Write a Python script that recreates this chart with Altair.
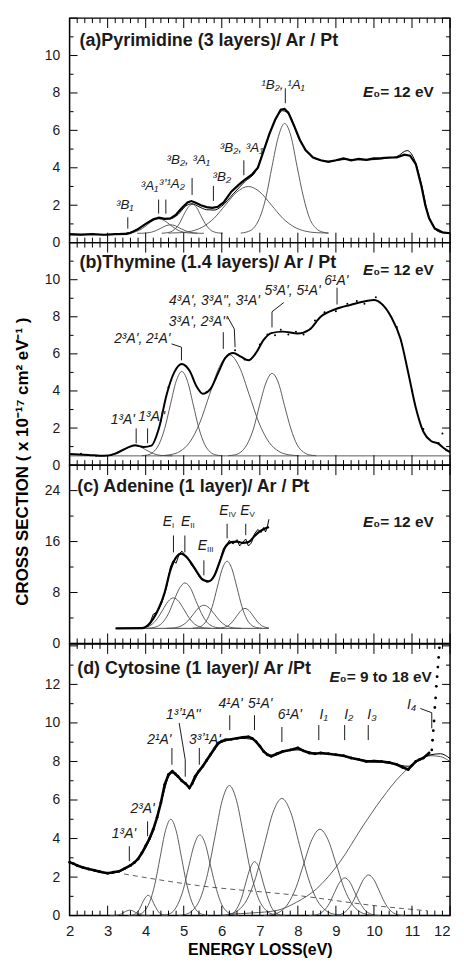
import altair as alt
import pandas as pd

FONT = "Liberation Sans"
INK = "#1a1a1a"
GRAY = "#4a4a4a"
W = 383
PANEL_H = {"a": 226, "b": 224, "c": 179.5, "d": 273.5}
Y_DOMAIN = {"a": [0, 12], "b": [0, 12], "c": [0, 28], "d": [0, 14.1]}
Y_LABELS = {"a": [0, 2, 4, 6, 8, 10], "b": [0, 2, 4, 6, 8, 10], "c": [0, 8, 16, 24], "d": [0, 2, 4, 6, 8, 10, 12]}
Y_MAJOR = {"a": [0, 2, 4, 6, 8, 10, 12], "b": [0, 2, 4, 6, 8, 10, 12], "c": [0, 8, 16, 24], "d": [0, 2, 4, 6, 8, 10, 12, 14]}
Y_MINOR = {"a": [1, 3, 5, 7, 9, 11], "b": [1, 3, 5, 7, 9, 11], "c": [4, 12, 20], "d": [1, 3, 5, 7, 9, 11, 13]}
X_MAJOR = [2, 3, 4, 5, 6, 7, 8, 9, 10, 11, 12]
X_MINOR = [round(2 + i * 0.2, 1) for i in range(51) if i % 5]

# ---------------- (a) Pyrimidine ----------------
A_DATA = [(2.0,0.45),(2.3,0.43),(2.6,0.46),(2.9,0.42),(3.2,0.45),(3.5,0.47),(3.6,0.52),(3.8,0.72),(4.0,1.0),(4.2,1.25),
          (4.35,1.33),(4.5,1.27),(4.65,1.3),(4.8,1.5),(4.95,1.85),(5.1,2.15),(5.2,2.22),(5.3,2.15),(5.45,2.0),(5.6,1.9),
          (5.75,1.86),(5.9,1.92),(6.05,2.15),(6.25,2.72),(6.45,3.1),(6.6,3.35),(6.8,3.65),(6.95,4.0),(7.1,4.9),(7.25,5.8),
          (7.4,6.55),(7.55,7.1),(7.65,7.15),(7.75,6.95),(7.9,6.25),(8.05,5.5),(8.2,4.95),(8.4,4.55),(8.6,4.4),(8.8,4.32),
          (9.0,4.4),(9.2,4.5),(9.4,4.4),(9.6,4.48),(9.8,4.42),(10.0,4.5),(10.2,4.52),(10.4,4.55),(10.6,4.55),(10.8,4.7),
          (10.95,4.65),(11.1,4.2),(11.25,3.0),(11.35,2.0),(11.45,1.3),(11.6,0.75),(11.8,0.55),(12.0,0.5)]
A_FIT = [(2.0,0.42),(3.0,0.42),(3.5,0.5),(3.8,0.75),(4.1,1.1),(4.35,1.3),(4.6,1.25),(4.85,1.5),(5.05,1.95),(5.22,2.08),
         (5.4,1.92),(5.6,1.76),(5.8,1.74),(6.0,1.95),(6.3,2.6),(6.6,3.25),(6.9,3.85),(7.1,4.9),(7.35,6.3),(7.6,7.05),
         (7.8,6.75),(8.0,5.7),(8.25,4.85),(8.5,4.45),(8.8,4.35),(9.3,4.45),(9.8,4.42),(10.3,4.5),(10.6,4.6),(10.87,4.92),
         (11.05,4.5),(11.25,3.1),(11.4,1.7),(11.55,0.9),(11.75,0.55),(12.0,0.5)]
A_COMPONENTS = {
    "a1": ([3.33,3.47,3.62,3.76,3.91,4.05,4.20,4.34,4.49,4.63,4.78,4.92,5.07,5.21,5.36],
           [0.50,0.51,0.53,0.60,0.75,0.97,1.18,1.27,1.18,0.97,0.75,0.60,0.53,0.51,0.50]),
    "a2": ([3.78,3.90,4.03,4.15,4.28,4.40,4.53,4.65,4.78,4.90,5.03,5.15,5.28,5.40,5.53],
           [0.50,0.50,0.52,0.56,0.65,0.77,0.90,0.95,0.90,0.77,0.65,0.56,0.52,0.50,0.50]),
    "a3": ([4.42,4.53,4.65,4.76,4.88,4.99,5.11,5.22,5.34,5.45,5.57,5.68,5.80,5.91,6.03],
           [0.50,0.52,0.57,0.71,1.00,1.44,1.87,2.05,1.87,1.44,1.00,0.71,0.57,0.52,0.50]),
    "a4": ([4.6,4.9,5.2,5.5,5.8,6.1,6.4,6.7,7.0,7.3,7.6,7.9,8.2,8.5,8.8],
           [0.51,0.53,0.61,0.84,1.31,2.02,2.71,3.00,2.71,2.02,1.31,0.84,0.61,0.53,0.51]),
    "a5": ([6.50,6.66,6.83,6.99,7.16,7.32,7.49,7.65,7.82,7.98,8.15,8.31,8.48,8.64,8.81],
           [0.51,0.57,0.76,1.29,2.41,4.06,5.68,6.37,5.68,4.06,2.41,1.29,0.76,0.57,0.51]),
}
A_TICKS = [(3.53,0.75,1.35),(4.34,1.55,2.3),(4.53,1.55,2.3),(5.22,2.55,3.45),(5.78,2.23,3.03),(6.58,3.6,4.4),(7.67,7.45,8.25)]
A_LABELS = [("³B₁",3.45,2.0),("³A₁",4.10,3.03),("³ʼ¹A₂",4.69,3.13),("³B₂, ³A₁",5.12,4.4),("³B₂",6.0,3.5),
            ("³B₂, ³A₁",6.52,5.05),("¹B₂, ¹A₁",7.61,8.45)]
A_TITLE = [("(a)Pyrimidine (3 layers)/ Ar / Pt", 2.26, 10.78)]
A_E0 = [("₀= 12 eV", 9.71, 8.07)]

# ---------------- (b) Thymine ----------------
B_FIT = [(2.0,0.6),(2.5,0.55),(2.9,0.5),(3.2,0.62),(3.5,0.92),(3.72,1.07),(3.95,0.98),(4.15,1.05),(4.35,2.0),(4.55,3.8),
         (4.75,5.0),(4.95,5.45),(5.15,5.1),(5.35,4.2),(5.5,3.85),(5.7,4.1),(5.9,4.95),(6.1,5.8),(6.3,6.05),(6.5,5.85),
         (6.7,5.65),(6.9,6.05),(7.1,6.75),(7.3,7.12),(7.6,7.2),(8.0,7.1),(8.3,7.3),(8.6,8.0),(9.0,8.42),(9.4,8.65),
         (9.8,8.85),(10.0,8.9),(10.2,8.7),(10.45,8.0),(10.7,6.8),(10.9,5.0),(11.1,3.1),(11.3,1.8),(11.5,1.3),(11.7,1.15),
         (11.85,0.9),(12.0,0.7)]
B_DOTS = [(2.3,0.62),(2.7,0.5),(3.1,0.55),(4.4,2.4),(4.6,4.2),(5.05,5.35),(5.6,3.95),(6.2,6.0),(6.35,6.2),(6.6,5.7),
          (7.0,6.5),(7.2,7.05),(7.4,7.0),(7.55,7.3),(7.75,7.05),(7.95,7.2),(8.15,7.05),(8.45,7.8),(8.7,8.25),(9.0,8.3),
          (9.3,8.7),(9.55,8.85),(9.75,8.7),(10.05,9.05),(10.6,7.45),(11.0,4.0),(11.3,1.95),(11.7,1.2),(11.9,0.8),(11.8,1.7)]
B_BASE = [(2.0,0.5),(12.0,0.5)]
B_COMPONENTS = {
    "b1": ([2.74,2.88,3.02,3.16,3.30,3.44,3.58,3.72,3.86,4.00,4.14,4.28,4.42,4.56,4.70],
           [0.50,0.51,0.52,0.57,0.68,0.83,0.99,1.05,0.99,0.83,0.68,0.57,0.52,0.51,0.50]),
    "b2": ([3.90,4.05,4.20,4.35,4.50,4.65,4.80,4.95,5.10,5.25,5.40,5.55,5.70,5.85,6.00],
           [0.51,0.55,0.70,1.12,1.98,3.26,4.52,5.05,4.52,3.26,1.98,1.12,0.70,0.55,0.51]),
    "b3": ([4.38,4.64,4.90,5.16,5.42,5.68,5.94,6.20,6.46,6.72,6.98,7.24,7.50,7.76,8.02],
           [0.51,0.56,0.74,1.24,2.27,3.81,5.31,5.95,5.31,3.81,2.27,1.24,0.74,0.56,0.51]),
    "b4": ([6.17,6.33,6.50,6.66,6.83,6.99,7.16,7.32,7.49,7.65,7.82,7.98,8.15,8.31,8.48],
           [0.51,0.55,0.70,1.10,1.94,3.20,4.43,4.95,4.43,3.20,1.94,1.10,0.70,0.55,0.51]),
}
B_TICKS = [(3.75,1.18,1.98),(4.05,1.18,1.98),(6.04,6.27,7.17),(9.03,8.66,9.57)]
B_CONNECTORS = {
    "k1": [(4.68,6.54),(4.94,6.36),(4.94,5.65)],
    "k2": [(6.16,7.97),(6.33,7.34),(6.35,6.36)],
    "k3": [(7.63,8.77),(7.32,8.27),(7.32,7.43)],
}
B_LABELS = [("1³A'",3.40,2.43),("1³A''",4.16,2.62),("2³A', 2¹A'",3.91,6.82),("3³A', 2³A''",5.38,7.7),
            ("4³A', 3³A'', 3¹A'",5.81,8.85),("5³A', 5¹A'",7.86,9.39),("6¹A'",9.01,9.92)]
B_TITLE = [("(b)Thymine (1.4 layers)/ Ar / Pt", 2.26, 10.9)]
B_E0 = [("₀= 12 eV", 9.71, 10.53)]

# ---------------- (c) Adenine ----------------
C_FIT = [(3.21,2.37),(3.9,2.4),(4.05,2.8),(4.2,3.9),(4.35,5.6),(4.5,8.0),(4.65,11.5),(4.8,13.5),(4.93,14.1),(5.05,13.7),
         (5.2,12.6),(5.35,11.2),(5.5,10.0),(5.65,9.75),(5.8,10.6),(5.95,12.9),(6.1,15.2),(6.25,15.9),(6.4,16.0),(6.55,15.8),
         (6.7,15.9),(6.85,16.8),(7.0,17.6),(7.12,18.0),(7.24,18.3)]
C_DATA = [(3.95,2.45),(4.1,3.0),(4.2,4.6),(4.3,4.9),(4.42,6.3),(4.55,8.9),(4.65,12.0),(4.72,13.0),(4.8,12.6),(4.88,14.0),
          (4.95,14.5),(5.02,14.0),(5.1,13.5),(5.2,12.3),(5.3,11.6),(5.42,10.4),(5.52,10.1),(5.6,9.6),(5.7,9.8),(5.82,10.8),
          (5.95,13.0),(6.05,15.0),(6.12,15.4),(6.2,16.2),(6.3,15.6),(6.4,16.3),(6.47,15.3),(6.55,15.9),(6.63,16.4),(6.7,15.3),
          (6.78,15.8),(6.86,17.2),(6.95,17.9),(7.03,17.4),(7.1,18.2),(7.15,17.5),(7.2,18.4),(7.24,19.5)]
C_BASE = [(3.21,2.37),(7.24,2.37)]
C_COMPONENTS = {
    "c1": ([3.75,3.89,4.03,4.17,4.31,4.45,4.59,4.73,4.87,5.01,5.15,5.29,5.43,5.57,5.71],
           [2.38,2.42,2.58,3.02,3.93,5.28,6.60,7.16,6.60,5.28,3.93,3.02,2.58,2.42,2.38]),
    "c2": ([4.02,4.16,4.31,4.45,4.60,4.74,4.89,5.03,5.18,5.32,5.47,5.61,5.76,5.90,6.05],
           [2.39,2.45,2.68,3.33,4.69,6.69,8.66,9.50,8.66,6.69,4.69,3.33,2.68,2.45,2.39]),
    "c3": ([4.55,4.69,4.83,4.97,5.11,5.25,5.39,5.53,5.67,5.81,5.95,6.09,6.23,6.37,6.51],
           [2.38,2.41,2.53,2.86,3.55,4.57,5.57,6.00,5.57,4.57,3.55,2.86,2.53,2.41,2.38]),
    "c4": ([5.23,5.36,5.49,5.62,5.75,5.88,6.01,6.14,6.27,6.40,6.53,6.66,6.79,6.92,7.05],
           [2.39,2.49,2.83,3.79,5.79,8.76,11.66,12.90,11.66,8.76,5.79,3.79,2.83,2.49,2.39]),
    "c5": ([5.84,5.95,6.06,6.17,6.28,6.39,6.50,6.61,6.72,6.83,6.94,7.05,7.16,7.24],
           [2.38,2.40,2.51,2.79,3.39,4.27,5.13,5.50,5.13,4.27,3.39,2.79,2.51,2.42]),
}
C_TICKS = [(4.73,14.3,16.95),(5.03,14.3,16.95),(5.53,10.7,13.05),(6.14,16.5,18.8),(6.63,17.0,18.8)]
C_SUBS = [("I",4.69,19.06),("II",5.17,19.06),("III",5.61,15.3),("IV",6.18,20.86),("V",6.73,20.86)]
C_TITLE = [("(c) Adenine (1 layer)/ Ar / Pt", 2.2, 24.5)]
C_E0 = [("₀= 12 eV", 9.71, 19.06)]

# ---------------- (d) Cytosine ----------------
D_DATA = [(2.0,2.77),(2.1,2.7),(2.2,2.6),(2.35,2.5),(2.5,2.42),(2.65,2.35),(2.8,2.28),(3.0,2.2),(3.15,2.25),(3.3,2.3),
          (3.45,2.45),(3.6,2.6),(3.7,2.75),(3.8,2.94),(3.9,3.25),(4.0,3.62),(4.1,4.0),(4.2,4.48),(4.3,5.1),(4.4,5.86),
          (4.5,6.8),(4.6,7.32),(4.7,7.49),(4.78,7.35),(4.85,7.22),(4.95,7.0),(5.05,6.85),(5.15,6.63),(5.22,6.85),(5.3,7.22),
          (5.4,7.5),(5.5,7.75),(5.6,8.05),(5.7,8.35),(5.8,8.65),(5.9,8.95),(6.0,9.05),(6.1,9.12),(6.25,9.15),(6.4,9.2),
          (6.55,9.25),(6.7,9.28),(6.8,9.2),(6.9,9.03),(7.0,8.8),(7.1,8.52),(7.2,8.35),(7.3,8.27),(7.45,8.4),(7.6,8.52),
          (7.8,8.6),(8.0,8.7),(8.15,8.55),(8.3,8.44),(8.45,8.4),(8.6,8.44),(8.8,8.4),(9.0,8.35),(9.2,8.3),(9.4,8.18),
          (9.6,8.1),(9.8,8.0),(10.0,8.02),(10.2,8.0),(10.4,7.95),(10.6,7.84),(10.75,7.7),(10.9,7.58),(11.0,7.8),(11.1,8.0),
          (11.2,8.1),(11.3,8.18),(11.45,8.44)]
D_TAIL = [(11.52,8.6),(11.54,9.1),(11.56,9.6),(11.58,10.1),(11.6,10.8),(11.62,11.3),(11.64,11.9),(11.66,12.4),
          (11.68,12.9),(11.7,13.4),(11.72,13.9)]
D_FIT = [(2.0,2.75),(2.5,2.4),(3.0,2.2),(3.3,2.28),(3.6,2.6),(3.9,3.2),(4.2,4.4),(4.45,6.2),(4.6,7.2),(4.7,7.4),
         (4.9,7.1),(5.15,6.7),(5.4,7.45),(5.7,8.3),(6.0,9.0),(6.5,9.2),(6.8,9.15),(7.1,8.55),(7.35,8.3),(7.7,8.55),
         (8.0,8.6),(8.5,8.42),(9.0,8.35),(9.5,8.15),(10.0,8.0),(10.5,7.88),(10.9,7.75),(11.2,8.1),(11.5,8.35),(11.75,8.4),
         (12.0,8.15)]
D_RAMP = [(6.2,0.08),(6.8,0.14),(7.45,0.27),(7.97,0.7),(8.49,1.39),(9.1,2.77),(9.71,4.65),(10.2,6.05),(10.72,7.31),
          (11.1,7.95),(11.5,8.3),(11.75,8.25),(12.0,8.0)]
D_BACKGROUND = [(3.43,2.16),(5.38,1.56),(7.97,1.05),(9.97,0.53),(11.4,0.25)]
D_COMPONENTS = {
    "d1": ([3.06,3.13,3.21,3.28,3.36,3.43,3.51,3.58,3.66,3.73,3.81,3.88,3.96,4.03,4.11],
           [0.00,0.00,0.01,0.04,0.09,0.17,0.25,0.28,0.25,0.17,0.09,0.04,0.01,0.00,0.00]),
    "d2": ([3.54,3.61,3.69,3.76,3.84,3.91,3.99,4.06,4.14,4.21,4.29,4.36,4.44,4.51,4.59],
           [0.00,0.01,0.05,0.14,0.34,0.64,0.93,1.05,0.93,0.64,0.34,0.14,0.05,0.01,0.00]),
    "d3": ([3.68,3.82,3.96,4.10,4.24,4.38,4.52,4.66,4.80,4.94,5.08,5.22,5.36,5.50,5.64],
           [0.01,0.06,0.22,0.68,1.62,3.03,4.41,5.00,4.41,3.03,1.62,0.68,0.22,0.06,0.01]),
    "d4": ([4.40,4.55,4.70,4.84,4.99,5.13,5.28,5.42,5.57,5.71,5.86,6.00,6.15,6.29,6.44],
           [0.01,0.05,0.18,0.57,1.36,2.54,3.70,4.19,3.70,2.54,1.36,0.57,0.18,0.05,0.01]),
    "d5": ([4.87,5.06,5.25,5.44,5.63,5.82,6.01,6.20,6.39,6.58,6.77,6.96,7.15,7.34,7.53],
           [0.01,0.07,0.30,0.91,2.19,4.09,5.96,6.75,5.96,4.09,2.19,0.91,0.30,0.07,0.01]),
    "d6": ([6.06,6.17,6.29,6.40,6.52,6.63,6.75,6.86,6.98,7.09,7.21,7.32,7.44,7.55,7.67],
           [0.01,0.03,0.12,0.38,0.91,1.70,2.47,2.80,2.47,1.70,0.91,0.38,0.12,0.03,0.01]),
    "d7": ([5.97,6.20,6.43,6.66,6.89,7.12,7.35,7.58,7.81,8.04,8.27,8.50,8.73,8.96,9.19],
           [0.01,0.07,0.27,0.82,1.97,3.69,5.37,6.08,5.37,3.69,1.97,0.82,0.27,0.07,0.01]),
    "d8": ([7.11,7.32,7.53,7.74,7.95,8.16,8.37,8.58,8.79,9.00,9.21,9.42,9.63,9.84,10.05],
           [0.01,0.05,0.20,0.61,1.45,2.72,3.95,4.48,3.95,2.72,1.45,0.61,0.20,0.05,0.01]),
    "d9": ([8.29,8.42,8.56,8.69,8.83,8.96,9.10,9.23,9.37,9.50,9.64,9.77,9.91,10.04,10.18],
           [0.00,0.02,0.09,0.27,0.64,1.19,1.73,1.96,1.73,1.19,0.64,0.27,0.09,0.02,0.00]),
    "d10": ([8.88,9.02,9.16,9.30,9.44,9.58,9.72,9.86,10.00,10.14,10.28,10.42,10.56,10.70,10.84],
            [0.00,0.02,0.09,0.29,0.69,1.28,1.86,2.11,1.86,1.28,0.69,0.29,0.09,0.02,0.00]),
}
D_TICKS = [(3.57,2.83,3.6),(4.05,4.12,4.89),(4.69,7.83,8.7),(5.41,7.83,8.7),(6.21,9.63,10.4),(6.86,9.63,10.4),
           (7.58,9.01,9.79),(8.55,9.11,9.89),(9.23,9.11,9.89),(9.85,9.11,9.89)]
D_CONNECTORS = {
    "k1": [(4.88,10.0),(5.04,8.09),(5.04,7.21)],
    "k2": [(11.22,10.75),(11.52,10.53),(11.52,9.72)],
}
D_LABELS = [("1³A'",3.43,4.22),("2³A'",3.92,5.51),("2¹A'",4.36,9.11),("1³ʼ¹A''",4.99,10.4),("3³ʼ¹A'",5.56,9.11),
            ("4¹A'",6.23,10.99),("5¹A'",7.01,10.99),("6¹A'",7.79,10.4),("I₁",8.68,10.4),("I₂",9.34,10.4),
            ("I₃",9.95,10.4),("I₄",10.99,10.92)]
D_TITLE = [("(d) Cytosine (1 layer)/ Ar /Pt", 2.2, 12.82)]
D_E0 = [("₀= 9 to 18 eV", 8.83, 12.37)]

Y_TITLE = "CROSS SECTION ( x 10⁻¹⁷ cm² eV⁻¹ )"


# ---------------- helpers ----------------
def xenc(p):
    if p == "d":
        ax = alt.Axis(values=X_MAJOR, format="d", ticks=False, tickSize=0, domain=False, grid=False,
                      labelFontSize=15, labelPadding=8, labelColor=INK, labelFlush=False, labelFont=FONT,
                      labelAlign={"condition": {"test": "datum.value == 12", "value": "right"}, "value": "center"},
                      title="ENERGY LOSS(eV)", titleFontSize=16, titleFontWeight="bold", titleFont=FONT,
                      titlePadding=3, titleColor="black")
    else:
        ax = None
    return alt.X("E:Q", scale=alt.Scale(domain=[2, 12], nice=False, zero=False), axis=ax)


def yenc(p):
    return alt.Y("v:Q", scale=alt.Scale(domain=Y_DOMAIN[p], nice=False, zero=False),
                 axis=alt.Axis(values=Y_LABELS[p], ticks=False, tickSize=0, domain=False, grid=False,
                               labelFontSize=14, labelPadding=10, labelColor=INK, labelFont=FONT, title=None))


def pts(rows):
    return pd.DataFrame(rows, columns=["E", "v"])


def comp_df(comps):
    rows = []
    for name, (es, vs) in comps.items():
        for e, v in zip(es, vs):
            rows.append({"E": e, "v": v, "g": name})
    return pd.DataFrame(rows)


def poly_df(polys):
    rows = []
    for name, pl in polys.items():
        for i, (e, v) in enumerate(pl):
            rows.append({"E": e, "v": v, "g": name, "o": i})
    return pd.DataFrame(rows)


def curve(p, df, width, color="black", interp="linear", dash=None, group=False):
    kw = dict(color=color, strokeWidth=width, interpolate=interp)
    if dash:
        kw["strokeDash"] = dash
    enc = dict(x=xenc(p), y=yenc(p))
    if group:
        enc["detail"] = "g:N"
    if "o" in df.columns:
        enc["order"] = "o:Q"
    return alt.Chart(df).mark_line(**kw).encode(**enc)


def vticks(p, rows):
    df = pd.DataFrame(rows, columns=["E", "v", "v2"])
    return alt.Chart(df).mark_rule(color=INK, strokeWidth=1).encode(x=xenc(p), y=yenc(p), y2="v2:Q")


def texts(p, rows, size=13, style="italic", weight="normal", align="center", dx=0, dy=0):
    df = pd.DataFrame(rows, columns=["t", "E", "v"])
    return alt.Chart(df).mark_text(font=FONT, fontSize=size, fontStyle=style, fontWeight=weight, align=align,
                                   baseline="middle", dx=dx, dy=dy, color=INK).encode(
        x=xenc(p), y=yenc(p), text="t:N")


def e0(p, rows):
    head = [("E", r[1], r[2]) for r in rows]
    return [texts(p, head, size=15.5, style="italic", weight="bold", align="left"),
            texts(p, rows, size=15.5, style="normal", weight="bold", align="left", dx=10.5)]


def frame(p):
    h = PANEL_H[p]
    layers = []
    for vals, ln in ((X_MAJOR, 10), (X_MINOR, 5)):
        base = alt.Chart(pd.DataFrame({"E": vals})).mark_rule(color="black", strokeWidth=1)
        layers.append(base.encode(x=xenc(p), y=alt.value(0), y2=alt.value(ln)))
        layers.append(base.encode(x=xenc(p), y=alt.value(h), y2=alt.value(h - ln)))
    for vals, ln in ((Y_MAJOR[p], 8), (Y_MINOR[p], 4)):
        base = alt.Chart(pd.DataFrame({"v": vals})).mark_rule(color="black", strokeWidth=1)
        layers.append(base.encode(y=yenc(p), x=alt.value(0), x2=alt.value(ln)))
        layers.append(base.encode(y=yenc(p), x=alt.value(W), x2=alt.value(W - ln)))
    return layers


def title(p, rows):
    return texts(p, rows, size=18, style="normal", weight="bold", align="left")


# ---------------- panels ----------------
pa = alt.layer(
    curve("a", comp_df(A_COMPONENTS), 0.9, GRAY, "monotone", group=True),
    curve("a", pts(A_DATA), 2.2, "black"),
    curve("a", pts(A_FIT), 1.0, "black", "monotone"),
    vticks("a", A_TICKS),
    texts("a", A_LABELS, size=13.5),
    title("a", A_TITLE),
    *e0("a", A_E0),
    *frame("a"),
).properties(width=W, height=PANEL_H["a"])

ytitle = alt.Chart(pd.DataFrame({"t": [Y_TITLE]})).mark_text(
    font=FONT, fontSize=17, fontWeight="bold", angle=270, align="center", baseline="middle", color="black"
).encode(text="t:N", x=alt.value(-47), y=alt.value(220.5))

pb = alt.layer(
    curve("b", pts(B_BASE), 0.9, GRAY),
    curve("b", comp_df(B_COMPONENTS), 0.9, GRAY, "monotone", group=True),
    alt.Chart(pts(B_DOTS)).mark_circle(size=4, color="black", opacity=1).encode(x=xenc("b"), y=yenc("b")),
    curve("b", pts(B_FIT), 2.0, "black", "monotone"),
    vticks("b", B_TICKS),
    curve("b", poly_df(B_CONNECTORS), 1.0, INK, group=True),
    texts("b", B_LABELS, size=14),
    title("b", B_TITLE),
    *e0("b", B_E0),
    *frame("b"),
    ytitle,
).properties(width=W, height=PANEL_H["b"])

C_HEAD = [("E", r[1], r[2]) for r in C_SUBS]
pc = alt.layer(
    curve("c", pts(C_BASE), 1.0, GRAY),
    curve("c", comp_df(C_COMPONENTS), 0.9, GRAY, "monotone", group=True),
    curve("c", pts(C_DATA), 1.0, "black"),
    curve("c", pts(C_FIT), 2.2, "black", "monotone"),
    vticks("c", C_TICKS),
    texts("c", C_HEAD, size=14, align="right"),
    texts("c", C_SUBS, size=8, style="normal", align="left", dy=4),
    title("c", C_TITLE),
    *e0("c", C_E0),
    *frame("c"),
).properties(width=W, height=PANEL_H["c"])

pd_ = alt.layer(
    curve("d", comp_df(D_COMPONENTS), 0.9, GRAY, "monotone", group=True),
    curve("d", pts(D_RAMP), 0.9, GRAY, "monotone"),
    curve("d", pts(D_BACKGROUND), 0.9, GRAY, "monotone", dash=[5, 4]),
    curve("d", pts(D_DATA), 2.6, "black"),
    alt.Chart(pts(D_DATA + D_TAIL)).mark_circle(size=8, color="black", opacity=1).encode(x=xenc("d"), y=yenc("d")),
    curve("d", pts(D_FIT), 1.0, "black", "monotone"),
    vticks("d", D_TICKS),
    curve("d", poly_df(D_CONNECTORS), 1.0, INK, group=True),
    texts("d", D_LABELS, size=14),
    title("d", D_TITLE),
    *e0("d", D_E0),
    *frame("d"),
).properties(width=W, height=PANEL_H["d"])

chart = alt.vconcat(pa, pb, pc, pd_, spacing=0, bounds="flush").properties(
    padding={"left": 5, "top": 5, "right": 0, "bottom": 0}
).configure(font=FONT).configure_view(stroke="black", strokeWidth=1.5)

chart.save("out.html", embed_options={"renderer": "svg", "actions": False})
